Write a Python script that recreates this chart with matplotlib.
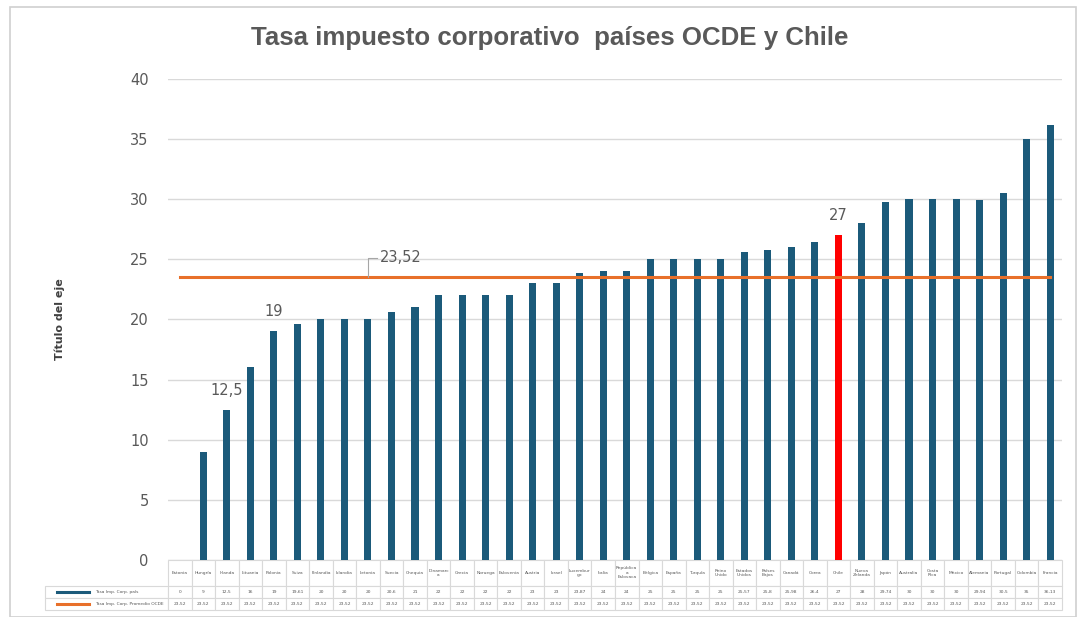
import matplotlib
matplotlib.use("Agg")
import matplotlib.pyplot as plt
import numpy as np
from matplotlib.patches import Rectangle

# Data
paises = [
    "Estonia", "Hungría", "Irlanda", "Lituania", "Polonia", "Suiza", "Finlandia",
    "Islandia", "Letonia", "Suecia", "Chequia", "Dinamarc\na", "Grecia", "Noruega",
    "Eslovenia", "Austria", "Israel", "Luxembur\ngo", "Italia", "República\na\nEslovaca",
    "Bélgica", "España", "Turquía", "Reino\nUnido", "Estados\nUnidos", "Países\nBajos",
    "Canadá", "Corea", "Chile", "Nueva\nZelanda", "Japón", "Australia", "Costa\nRica",
    "México", "Alemania", "Portugal", "Colombia", "Francia",
]
tasa_pais = [
    0, 9, 12.5, 16, 19, 19.61, 20, 20, 20, 20.6, 21, 22, 22, 22, 22, 23, 23, 23.87,
    24, 24, 25, 25, 25, 25, 25.57, 25.8, 25.98, 26.4, 27, 28, 29.74, 30, 30, 30,
    29.94, 30.5, 35, 36.13,
]
promedio_ocde = 23.52
etiquetas = {2: "12,5", 4: "19", 28: "27"}
destacado = "Chile"
serie_nombres = ["Tasa Imp. Corp. país", "Tasa Imp. Corp. Promedio OCDE"]

BAR_COLOR = "#1b5a7a"
RED = "#ff0000"
ORANGE = "#e8702a"
GRAY_TXT = "#595959"
GRID = "#d9d9d9"


def fmt(v):
    s = f"{v:.2f}".rstrip("0").rstrip(".")
    return s.replace(".", ",")


fig = plt.figure(figsize=(10.77, 6.17), dpi=100)
fig.patches.append(Rectangle((0.009, 0.0), 0.99, 0.988, transform=fig.transFigure,
                             fill=False, edgecolor="#d0d0d0", lw=1.2))
ax = fig.add_axes([0.156, 0.0924, 0.83, 0.78])

x = np.arange(len(paises))
colors = [RED if p == destacado else BAR_COLOR for p in paises]
ax.bar(x, tasa_pais, width=0.3, color=colors, zorder=3)
ax.plot(x, [promedio_ocde] * len(x), color=ORANGE, lw=2.2, zorder=4)

for i, txt in etiquetas.items():
    ax.text(i, tasa_pais[i] + 1.0, txt, ha="center", va="bottom", fontsize=10.5,
            color=GRAY_TXT)

# label for the average with leader line
ax.plot([8, 8, 8.4], [promedio_ocde, 25.1, 25.1], color="#a6a6a6", lw=0.8, zorder=5)
ax.text(8.5, 25.1, fmt(promedio_ocde), ha="left", va="center", fontsize=10.5,
        color=GRAY_TXT)

ax.set_xlim(-0.5, len(paises) - 0.5)
ax.set_ylim(0, 40)
ax.set_yticks(range(0, 41, 5))
ax.tick_params(axis="y", length=0, labelsize=10.5, labelcolor=GRAY_TXT, pad=14)
ax.set_xticks([])
ax.grid(axis="y", color=GRID, lw=1, zorder=0)
for s in ax.spines.values():
    s.set_visible(False)

ax.set_ylabel("Título del eje", fontsize=8, fontweight="bold", color="#404040",
              labelpad=47)
fig.text(0.51, 0.938, "Tasa impuesto corporativo  países OCDE y Chile",
         fontsize=18.6, fontweight="bold", color=GRAY_TXT, ha="center", va="center",
         family="Liberation Sans")

# data table under the axis; first column holds the legend keys
cell_text = [[""] + [fmt(v) for v in tasa_pais],
             [""] + [fmt(promedio_ocde)] * len(paises)]
tab = ax.table(cellText=cell_text, colLabels=[""] + paises, cellLoc="center",
               bbox=[-0.1376, -0.104, 1.1376, 0.104])
tab.auto_set_font_size(False)
tab.set_fontsize(3.2)
for (r, c), cell in tab.get_celld().items():
    cell.set_edgecolor(GRID)
    cell.set_linewidth(0.8)
    cell.get_text().set_color(GRAY_TXT)
    cell.set_width(5.23 if c == 0 else 1.0)
    cell.set_height(2.1 if r == 0 else 1.0)
tab[0, 0].visible_edges = "open"

leg_y = [-0.0665, -0.0915]
for yy, col, t in zip(leg_y, [BAR_COLOR, ORANGE], serie_nombres):
    ax.plot([-0.124, -0.088], [yy, yy], color=col, lw=2.2, transform=ax.transAxes,
            clip_on=False)
    ax.text(-0.082, yy, t, transform=ax.transAxes, fontsize=3.2, va="center",
            ha="left", color=GRAY_TXT)

fig.savefig("out.png", dpi=100, facecolor="white")
